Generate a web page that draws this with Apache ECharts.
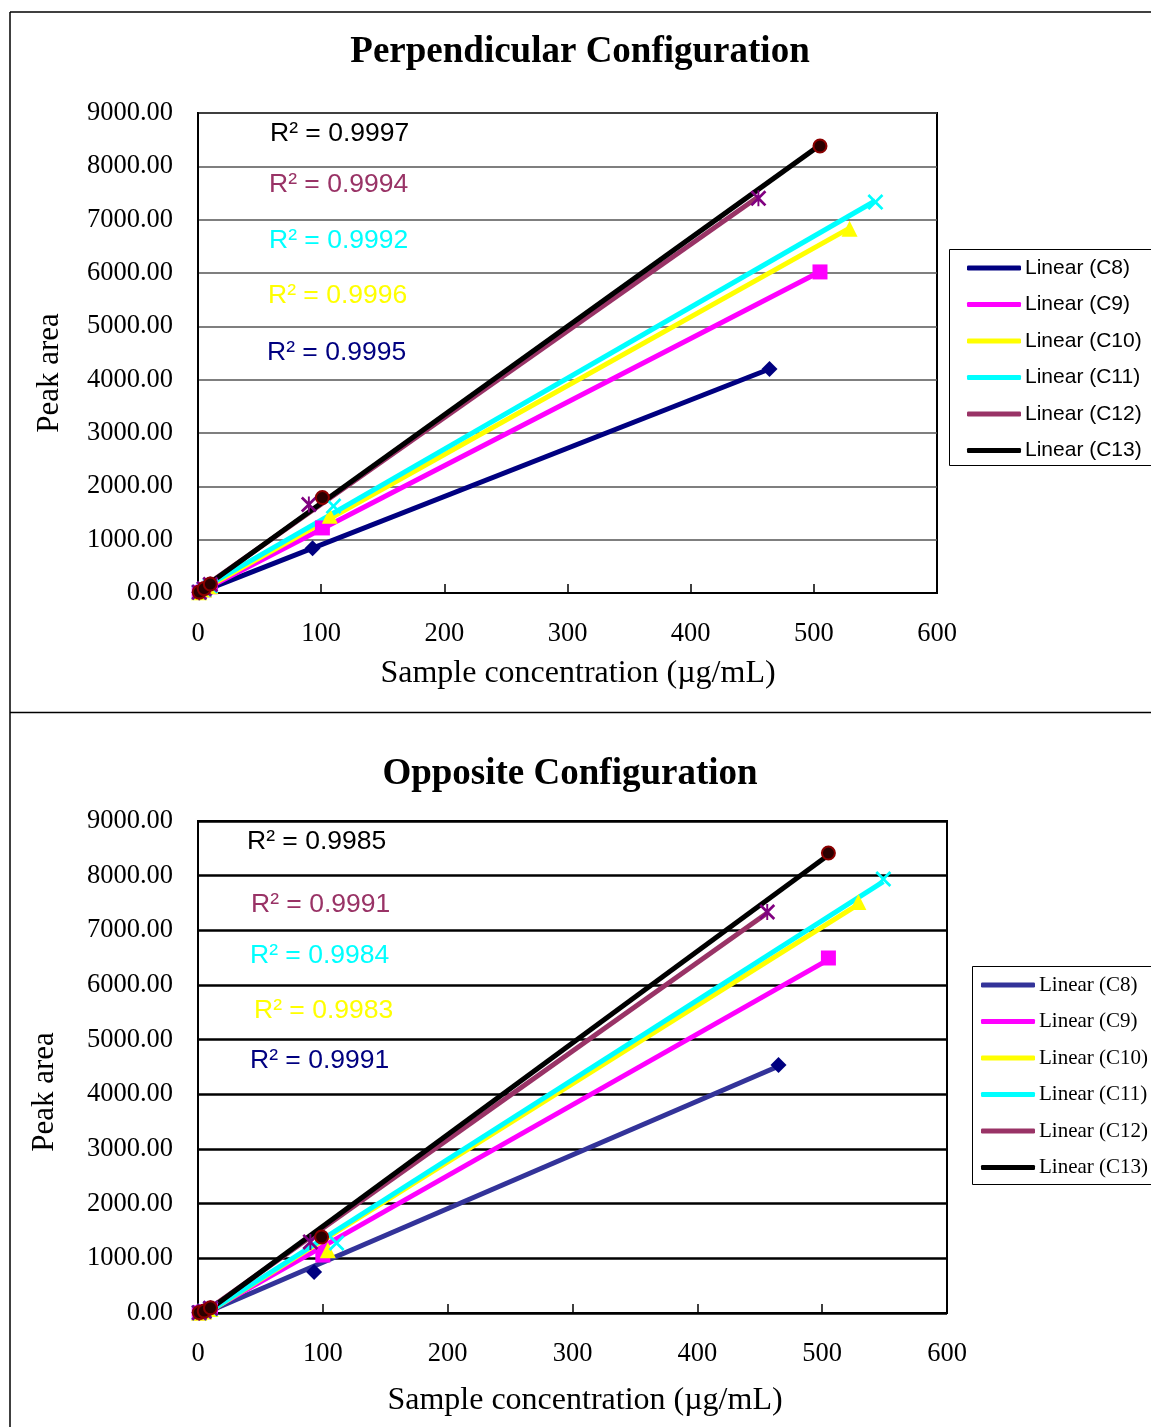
<!DOCTYPE html>
<html>
<head>
<meta charset="utf-8">
<script src="https://cdn.jsdelivr.net/npm/echarts@6/dist/echarts.min.js"></script>
<style>
html,body{margin:0;padding:0;background:#fff;}
#c{width:1151px;height:1427px;}
</style>
</head>
<body>
<div id="c"></div>
<script>
// ---- data (concentration µg/mL, peak area) ----
const seriesKeys = ['C8', 'C9', 'C10', 'C11', 'C12', 'C13'];

const perpC8  = [[1, 9], [5, 42], [10, 85], [93, 840], [464, 4200]];
const perpC9  = [[1, 12], [5, 60], [10, 118], [101, 1220], [505, 6020]];
const perpC10 = [[1, 13], [5, 64], [10, 128], [107, 1450], [529, 6830]];
const perpC11 = [[1, 14], [5, 68], [10, 135], [110, 1630], [550, 7330]];
const perpC12 = [[1, 16], [5, 80], [10, 160], [90, 1660], [455, 7400]];
const perpC13 = [[1, 17], [5, 83], [10, 168], [101, 1790], [505, 8380]];

const oppC8  = [[1, 4], [5, 20], [10, 55], [93, 750], [465, 4536]];
const oppC9  = [[1, 5], [5, 25], [10, 70], [100, 1060], [505, 6494]];
const oppC10 = [[1, 6], [5, 28], [10, 75], [104, 1150], [529, 7518]];
const oppC11 = [[1, 6], [5, 30], [10, 80], [111, 1280], [549, 7939]];
const oppC12 = [[1, 6], [5, 32], [10, 85], [90, 1300], [456, 7335]];
const oppC13 = [[1, 7], [5, 35], [10, 95], [99, 1390], [505, 8414]];

// R² labels shown on the charts (series, value)
const perpR2Labels = [['C13', '0.9997'], ['C12', '0.9994'], ['C11', '0.9992'], ['C10', '0.9996'], ['C8', '0.9995']];
const oppR2Labels  = [['C13', '0.9985'], ['C12', '0.9991'], ['C11', '0.9984'], ['C10', '0.9983'], ['C8', '0.9991']];

const xMin = 0, xMax = 600, xStep = 100;
const yMin = 0, yMax = 9000, yStep = 1000;

// ---- styles ----
const perpLineColors = ['#000080', '#FF00FF', '#FFFF00', '#00FFFF', '#993366', '#000000'];
const oppLineColors  = ['#333399', '#FF00FF', '#FFFF00', '#00FFFF', '#993366', '#000000'];
const markerColors   = ['#000080', '#FF00FF', '#FFFF00', '#00FFFF', '#800080', '#2a0000'];
const xPath = 'path://M0,1.2L1.2,0L5,3.8L8.8,0L10,1.2L6.2,5L10,8.8L8.8,10L5,6.2L1.2,10L0,8.8L3.8,5Z';
const starPath = 'path://M0,1.2L1.2,0L5,3.8L8.8,0L10,1.2L6.2,5L10,8.8L8.8,10L5,6.2L1.2,10L0,8.8L3.8,5Z M4.4,0L5.6,0L5.6,10L4.4,10Z';
const markerShapes = ['diamond', 'rect', 'triangle', xPath, starPath, 'circle'];
const markerSizes  = [16, 15, 16, 16, 16, 13];

function fit(pts) {
  const n = pts.length;
  let sx = 0, sy = 0;
  pts.forEach(p => { sx += p[0]; sy += p[1]; });
  const mx = sx / n, my = sy / n;
  let sxx = 0, sxy = 0;
  pts.forEach(p => { sxx += (p[0] - mx) * (p[0] - mx); sxy += (p[0] - mx) * (p[1] - my); });
  const b = sxy / sxx, a = my - b * mx;
  const xs = pts.map(p => p[0]);
  const x0 = Math.min.apply(null, xs), x1 = Math.max.apply(null, xs);
  return [[x0, a + b * x0], [x1, a + b * x1]];
}

const perpData = [perpC8, perpC9, perpC10, perpC11, perpC12, perpC13];
const oppData  = [oppC8, oppC9, oppC10, oppC11, oppC12, oppC13];

const series = [];
function addSeries(prefix, dataList, lineColors, gridIdx) {
  dataList.forEach((pts, i) => {
    series.push({
      name: prefix + '-' + seriesKeys[i],
      type: 'line',
      xAxisIndex: gridIdx, yAxisIndex: gridIdx,
      data: fit(pts),
      showSymbol: false,
      symbol: 'none',
      color: lineColors[i],
      itemStyle: { color: lineColors[i] },
      lineStyle: { color: lineColors[i], width: 5 },
      silent: true,
      animation: false,
      z: 2
    });
  });
  dataList.forEach((pts, i) => {
    series.push({
      name: prefix + '-pts-' + seriesKeys[i],
      type: 'scatter',
      xAxisIndex: gridIdx, yAxisIndex: gridIdx,
      data: pts,
      symbol: markerShapes[i],
      symbolSize: markerSizes[i],
      itemStyle: i === 5
        ? { color: markerColors[i], borderColor: '#8b0000', borderWidth: 2, opacity: 1 }
        : { color: markerColors[i], opacity: 1 },
      silent: true,
      animation: false,
      z: 3
    });
  });
}
addSeries('p', perpData, perpLineColors, 0);
addSeries('o', oppData, oppLineColors, 1);

const tickFont = { fontFamily: 'Liberation Serif', fontSize: 26.5, color: '#000' };

function xAxisCfg(gridIdx) {
  return {
    type: 'value', gridIndex: gridIdx, min: xMin, max: xMax, interval: xStep,
    axisLine: { show: true, lineStyle: { color: '#000', width: 2 } },
    axisTick: { show: true, inside: true, length: 9, lineStyle: { color: '#000', width: 1.5 } },
    axisLabel: Object.assign({ margin: 28 }, tickFont),
    splitLine: { show: false }
  };
}
function yAxisCfg(gridIdx, gridColor, gridWidth) {
  return {
    type: 'value', gridIndex: gridIdx, min: yMin, max: yMax, interval: yStep,
    axisLine: { show: true, lineStyle: { color: '#000', width: 2 } },
    axisTick: { show: false },
    axisLabel: Object.assign({ margin: 25, formatter: v => v.toFixed(2) }, tickFont),
    splitLine: { show: true, lineStyle: { color: gridColor, width: gridWidth } }
  };
}

function legendCfg(prefix, left, top, font) {
  return {
    data: seriesKeys.map(k => prefix + '-' + k),
    orient: 'vertical',
    left: left, top: top,
    padding: 0,
    itemWidth: 54, itemHeight: 5,
    itemGap: 14.5,
    icon: 'roundRect',
    selectedMode: false,
    formatter: n => 'Linear (' + n.split('-')[1] + ')',
    textStyle: { fontFamily: font, fontSize: 21, color: '#000', lineHeight: 22, padding: [0, 0, 0, -1] }
  };
}

const r2Colors = { C8: '#000080', C9: '#FF00FF', C10: '#FFFF00', C11: '#00FFFF', C12: '#993366', C13: '#000000' };
const perpR2Pos = [[270, 134], [269, 185], [269, 241], [268, 296], [267, 353]];
const oppR2Pos  = [[247, 842], [251, 905], [250, 956], [254, 1011], [250, 1061]];

const graphics = [];
function line(x1, y1, x2, y2, w) {
  graphics.push({ type: 'line', shape: { x1, y1, x2, y2 }, style: { stroke: '#000', lineWidth: w }, silent: true });
}
line(10, 12, 1151, 12, 1.5);
line(10, 12, 10, 1427, 1.5);
line(10, 712.5, 1151, 712.5, 1.5);

graphics.push({ type: 'rect', shape: { x: 949.5, y: 249.5, width: 230, height: 216 }, style: { fill: 'none', stroke: '#000', lineWidth: 1 }, silent: true });
graphics.push({ type: 'rect', shape: { x: 972.5, y: 966.5, width: 210, height: 218 }, style: { fill: 'none', stroke: '#000', lineWidth: 1 }, silent: true });

function text(str, x, y, font, fill, align, rotation) {
  graphics.push({
    type: 'text', x: x, y: y, rotation: rotation || 0, silent: true,
    style: { text: str, font: font, fill: fill, textAlign: align || 'left', textVerticalAlign: 'middle' }
  });
}
text('Perpendicular Configuration', 580, 52, 'bold 37px "Liberation Serif"', '#000', 'center');
text('Opposite Configuration', 570, 774, 'bold 37px "Liberation Serif"', '#000', 'center');
text('Sample concentration (µg/mL)', 578, 674, '32px "Liberation Serif"', '#000', 'center');
text('Sample concentration (µg/mL)', 585, 1401, '32px "Liberation Serif"', '#000', 'center');
text('Peak area', 50, 373, '31px "Liberation Serif"', '#000', 'center', Math.PI / 2);
text('Peak area', 45, 1092, '31px "Liberation Serif"', '#000', 'center', Math.PI / 2);

perpR2Labels.forEach((l, i) => text('R² = ' + l[1], perpR2Pos[i][0], perpR2Pos[i][1], '26.5px "Liberation Sans"', r2Colors[l[0]], 'left'));
oppR2Labels.forEach((l, i) => text('R² = ' + l[1], oppR2Pos[i][0], oppR2Pos[i][1], '26.5px "Liberation Sans"', r2Colors[l[0]], 'left'));

const chart = echarts.init(document.getElementById('c'), null, { renderer: 'canvas' });
chart.setOption({
  backgroundColor: '#fff',
  animation: false,
  grid: [
    { left: 198, top: 113, width: 739, height: 480, show: true, borderColor: '#000', borderWidth: 2, backgroundColor: 'transparent' },
    { left: 198, top: 821, width: 749, height: 492, show: true, borderColor: '#000', borderWidth: 2, backgroundColor: 'transparent' }
  ],
  xAxis: [xAxisCfg(0), xAxisCfg(1)],
  yAxis: [yAxisCfg(0, '#555', 1.5), yAxisCfg(1, '#000', 2.5)],
  legend: [
    legendCfg('p', 967, 257, 'Liberation Sans'),
    legendCfg('o', 981, 974, 'Liberation Serif')
  ],
  series: series,
  graphic: graphics
});
</script>
</body>
</html>
